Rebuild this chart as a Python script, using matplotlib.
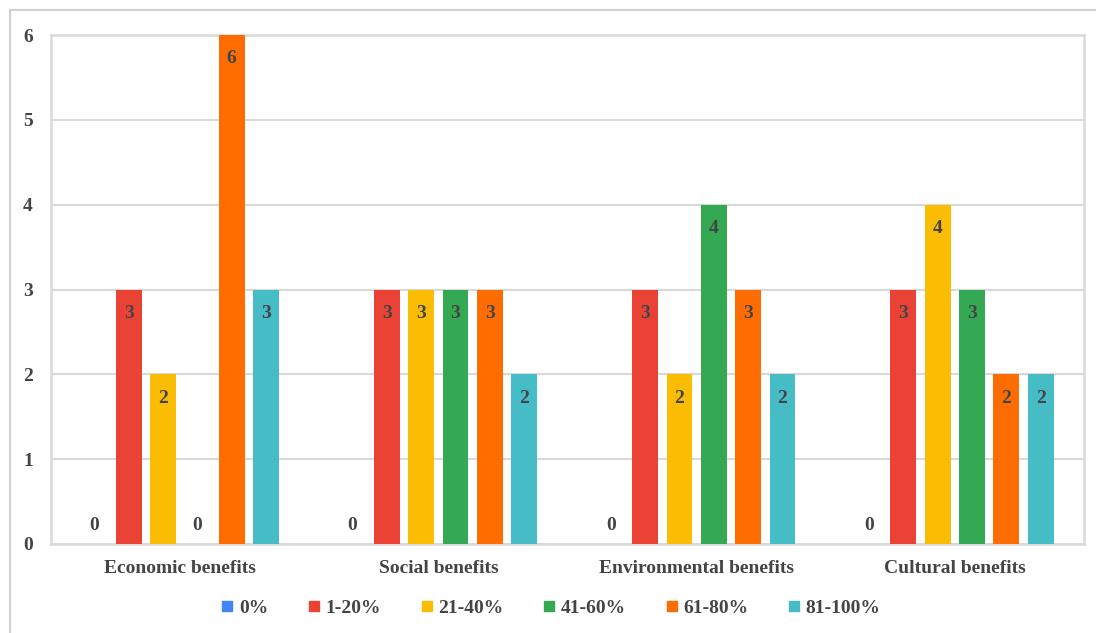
import matplotlib
matplotlib.use("Agg")
import matplotlib.pyplot as plt
from matplotlib.lines import Line2D
from matplotlib.patches import Rectangle
import numpy as np

categories = ["Economic benefits", "Social benefits", "Environmental benefits", "Cultural benefits"]
series = ["0%", "1-20%", "21-40%", "41-60%", "61-80%", "81-100%"]
colors = ["#4285F4", "#EA4335", "#FBBC04", "#34A853", "#FF6D01", "#46BDC6"]

# counts per series, one value per category
v_0 = [0, 0, 0, 0]
v_1_20 = [3, 3, 3, 3]
v_21_40 = [2, 3, 2, 4]
v_41_60 = [0, 3, 4, 3]
v_61_80 = [6, 3, 3, 2]
v_81_100 = [3, 2, 2, 2]
values = [v_0, v_1_20, v_21_40, v_41_60, v_61_80, v_81_100]

TXT = "#444444"
GRID = "#d9d9d9"
plt.rcParams["font.family"] = ["Liberation Serif", "DejaVu Serif"]
plt.rcParams["font.weight"] = "bold"

fig = plt.figure(figsize=(10.96, 6.33), dpi=100)
ax = fig.add_axes([51 / 1096, 1 - 544 / 633, (1084 - 51) / 1096, (544 - 35) / 633])

# outer frame of the chart
fig.patches.append(Rectangle((10 / 1096, -0.1), 2, 1.1 - 10 / 633, transform=fig.transFigure,
                             fill=False, edgecolor="#d0d0d0", lw=1.5))

x = np.arange(len(categories))
step = 0.133
width = 0.1
for i, (name, vals, c) in enumerate(zip(series, values, colors)):
    xs = x + (i - 2.5) * step
    ax.bar(xs, vals, width=width, color=c, zorder=3)
    for xi, v in zip(xs, vals):
        if v > 0:
            ax.annotate(str(v), (xi, v), xytext=(0, -11), textcoords="offset points",
                        ha="center", va="top", fontsize=14, fontweight="bold", color=TXT, zorder=4)
        else:
            ax.annotate(str(v), (xi, v), xytext=(0, 7), textcoords="offset points",
                        ha="center", va="bottom", fontsize=14, fontweight="bold", color=TXT, zorder=4)

ax.set_xlim(-0.5, len(categories) - 0.5)
ax.set_ylim(0, 6)
ax.set_yticks(range(0, 7))
ax.set_xticks(x)
ax.set_xticklabels(categories)
ax.yaxis.grid(True, color=GRID, lw=1.5, zorder=0)
ax.set_axisbelow(True)
for s in ax.spines.values():
    s.set_color(GRID)
    s.set_linewidth(1.8)
ax.tick_params(axis="both", length=0, labelsize=14, labelcolor=TXT)
ax.tick_params(axis="y", pad=13)
ax.tick_params(axis="x", pad=11.5)

handles = [Line2D([], [], marker="s", linestyle="", markersize=7, color=c) for c in colors]
leg = fig.legend(handles, series, loc="center", bbox_to_anchor=(551 / 1096, 1 - 608 / 633),
                 ncol=6, frameon=False, fontsize=14, handlelength=0.6, handletextpad=0.3,
                 columnspacing=2.05, labelcolor=TXT)

fig.savefig("out.png", dpi=100)
